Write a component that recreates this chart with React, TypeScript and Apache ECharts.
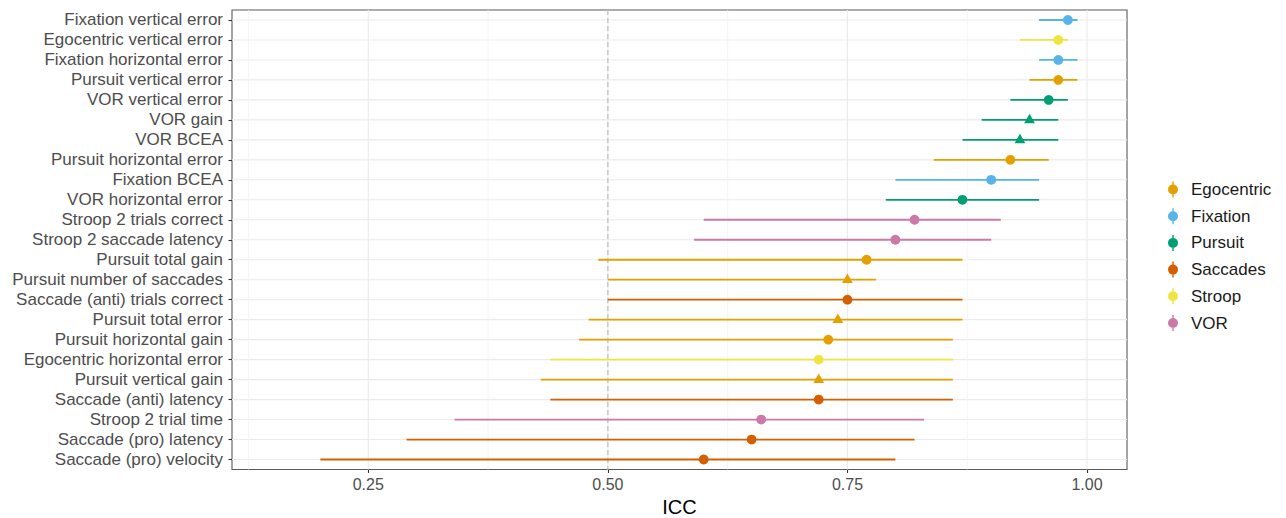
import React, { useEffect, useRef } from "react";
import * as echarts from "echarts";

const categories = [
  "Fixation vertical error",
  "Egocentric vertical error",
  "Fixation horizontal error",
  "Pursuit vertical error",
  "VOR vertical error",
  "VOR gain",
  "VOR BCEA",
  "Pursuit horizontal error",
  "Fixation BCEA",
  "VOR horizontal error",
  "Stroop 2 trials correct",
  "Stroop 2 saccade latency",
  "Pursuit total gain",
  "Pursuit number of saccades",
  "Saccade (anti) trials correct",
  "Pursuit total error",
  "Pursuit horizontal gain",
  "Egocentric horizontal error",
  "Pursuit vertical gain",
  "Saccade (anti) latency",
  "Stroop 2 trial time",
  "Saccade (pro) latency",
  "Saccade (pro) velocity",
];
const lower = [0.95, 0.93, 0.95, 0.94, 0.92, 0.89, 0.87, 0.84, 0.8, 0.79, 0.6, 0.59, 0.49, 0.5, 0.5, 0.48, 0.47, 0.44, 0.43, 0.44, 0.34, 0.29, 0.2];
const estimate = [0.98, 0.97, 0.97, 0.97, 0.96, 0.94, 0.93, 0.92, 0.9, 0.87, 0.82, 0.8, 0.77, 0.75, 0.75, 0.74, 0.73, 0.72, 0.72, 0.72, 0.66, 0.65, 0.6];
const upper = [0.99, 0.98, 0.99, 0.99, 0.98, 0.97, 0.97, 0.96, 0.95, 0.95, 0.91, 0.9, 0.87, 0.78, 0.87, 0.87, 0.86, 0.86, 0.86, 0.86, 0.83, 0.82, 0.8];
const rowGroup = [
  "Fixation", "Stroop", "Fixation", "Egocentric", "Pursuit", "Pursuit", "Pursuit",
  "Egocentric", "Fixation", "Pursuit", "VOR", "VOR", "Egocentric", "Egocentric",
  "Saccades", "Egocentric", "Egocentric", "Stroop", "Egocentric", "Saccades", "VOR",
  "Saccades", "Saccades",
];
const rowShape = [0, 0, 0, 0, 0, 1, 1, 0, 0, 0, 0, 0, 0, 1, 0, 1, 0, 0, 1, 0, 0, 0, 0];
const groups = ["Egocentric", "Fixation", "Pursuit", "Saccades", "Stroop", "VOR"];
const groupColors = ["#E69F00", "#56B4E9", "#009E73", "#D55E00", "#F0E442", "#CC79A7"];
const xMajorTicks = [0.25, 0.5, 0.75, 1.0];
const xMinorTicks = [0.125, 0.375, 0.625, 0.875];
const referenceValue = 0.5;
const xMin = 0.1078;
const xMax = 1.0417;

const FONT = "'Liberation Sans', Arial, sans-serif";

export default function App() {
  const ref = useRef<HTMLDivElement>(null);
  useEffect(() => {
    if (!ref.current) return;
    const chart = echarts.init(ref.current, undefined, { renderer: "svg" });

    const dataSeries = groups.map((g, gi) => ({
      type: "custom",
      name: g,
      z: 5,
      itemStyle: { color: groupColors[gi] },
      encode: { x: [0, 1, 2], y: 3 },
      data: categories
        .map((c, i) => ({ c, i }))
        .filter(({ i }) => rowGroup[i] === g)
        .map(({ c, i }) => [lower[i], estimate[i], upper[i], c, rowShape[i]]),
      renderItem: (params: any, api: any) => {
        const y = api.value(3);
        const pLo = api.coord([api.value(0), y]);
        const pE = api.coord([api.value(1), y]);
        const pHi = api.coord([api.value(2), y]);
        const color = api.visual("color");
        const tri = api.value(4) === 1;
        const marker = tri
          ? {
              type: "polygon",
              shape: {
                points: [
                  [pE[0], pE[1] - 6.2],
                  [pE[0] - 5.4, pE[1] + 3.3],
                  [pE[0] + 5.4, pE[1] + 3.3],
                ],
              },
              style: { fill: color },
            }
          : { type: "circle", shape: { cx: pE[0], cy: pE[1], r: 4.9 }, style: { fill: color } };
        return {
          type: "group",
          children: [
            {
              type: "line",
              shape: { x1: pLo[0], y1: pLo[1], x2: pHi[0], y2: pHi[1] },
              style: { stroke: color, lineWidth: 1.8 },
            },
            marker,
          ],
        };
      },
    }));

    const gridH = {
      type: "custom",
      name: "_gridH",
      z: 1,
      silent: true,
      encode: { x: 0, y: 1 },
      data: categories.map((c) => [xMin, c]),
      renderItem: (params: any, api: any) => {
        const p = api.coord([api.value(0), api.value(1)]);
        const cs = params.coordSys;
        return {
          type: "line",
          shape: { x1: cs.x, y1: p[1], x2: cs.x + cs.width, y2: p[1] },
          style: { stroke: "#EBEBEB", lineWidth: 1.1 },
        };
      },
    };

    const gridV = {
      type: "custom",
      name: "_gridV",
      z: 1,
      silent: true,
      encode: { x: 0 },
      data: [
        ...xMajorTicks.map((v) => [v, 1]),
        ...xMinorTicks.map((v) => [v, 0]),
      ],
      renderItem: (params: any, api: any) => {
        const cs = params.coordSys;
        const p = api.coord([api.value(0), 0]);
        const major = api.value(1) === 1;
        return {
          type: "line",
          shape: { x1: p[0], y1: cs.y, x2: p[0], y2: cs.y + cs.height },
          style: { stroke: major ? "#EBEBEB" : "#F3F3F3", lineWidth: major ? 1.1 : 0.8 },
        };
      },
    };

    const refLine = {
      type: "custom",
      name: "_ref",
      z: 3,
      silent: true,
      encode: { x: 0 },
      data: [[referenceValue]],
      renderItem: (params: any, api: any) => {
        const cs = params.coordSys;
        const p = api.coord([api.value(0), 0]);
        return {
          type: "line",
          shape: { x1: p[0], y1: cs.y, x2: p[0], y2: cs.y + cs.height },
          style: { stroke: "#BDBDBD", lineWidth: 1.2, lineDash: [5, 3] },
        };
      },
    };

    chart.setOption({
      animation: false,
      backgroundColor: "#FFFFFF",
      grid: {
        left: 232,
        right: 159,
        top: 10,
        bottom: 48.5,
        show: true,
        containLabel: false,
        outerBoundsMode: "none",
        borderColor: "#5A5A5A",
        borderWidth: 1.1,
        backgroundColor: "transparent",
      },
      legend: {
        data: groups,
        orient: "vertical",
        left: 1163,
        top: 176,
        itemWidth: 10,
        itemHeight: 16,
        itemGap: 9.7,
        icon: "path://M5.3,0h1.4v16h-1.4z M1,8 a5,5 0 1,1 10,0 a5,5 0 1,1 -10,0 z",
        textStyle: {
          fontFamily: FONT,
          fontSize: 17,
          color: "#1A1A1A",
          lineHeight: 16,
          padding: [0, 0, 0, 8],
        },
        selectedMode: false,
      },
      xAxis: {
        type: "value",
        min: xMin,
        max: xMax,
        name: "ICC",
        nameLocation: "middle",
        nameGap: 27,
        nameTextStyle: { fontFamily: FONT, fontSize: 20, lineHeight: 20, color: "#000000" },
        axisLine: { show: false },
        axisTick: {
          show: true,
          length: 3.5,
          lineStyle: { color: "#333333", width: 1.1 },
          customValues: xMajorTicks,
        },
        axisLabel: {
          fontFamily: FONT,
          fontSize: 16,
          color: "#4D4D4D",
          margin: 7,
          customValues: xMajorTicks,
          formatter: (v: number) => v.toFixed(2),
        },
        splitLine: { show: false },
      },
      yAxis: {
        type: "category",
        inverse: true,
        data: categories,
        axisLine: { show: false },
        axisTick: {
          show: true,
          alignWithLabel: true,
          interval: 0,
          length: 3.5,
          lineStyle: { color: "#333333", width: 1.1 },
        },
        axisLabel: {
          interval: 0,
          fontFamily: FONT,
          fontSize: 17,
          color: "#4D4D4D",
          margin: 9,
        },
        splitLine: { show: false },
      },
      series: [gridH, gridV, refLine, ...dataSeries],
    });

    return () => chart.dispose();
  }, []);

  return <div ref={ref} style={{ width: 1286, height: 518, position: "absolute", left: 0, top: 0 }} />;
}
